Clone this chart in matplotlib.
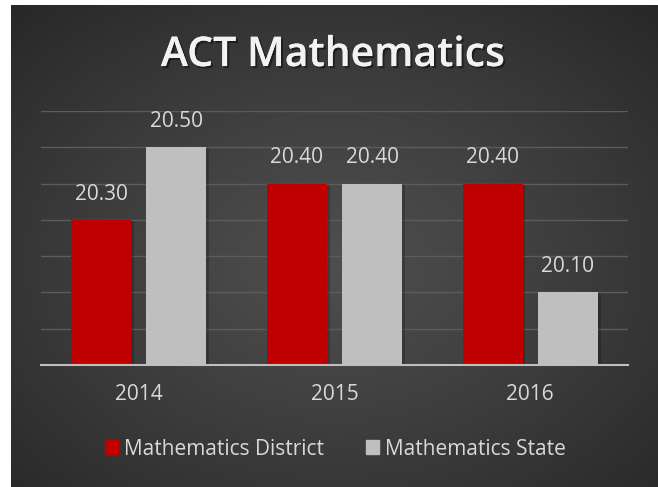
import numpy as np
import matplotlib
matplotlib.use("Agg")
import matplotlib.pyplot as plt
import matplotlib.patheffects as pe
from matplotlib.patches import Patch

# dati
years = ["2014", "2015", "2016"]
district = [20.30, 20.40, 20.40]
state = [20.50, 20.40, 20.10]
series_names = ["Mathematics District", "Mathematics State"]

RED = "#C00000"
GREY = "#BFBFBF"
TXT = "#D9D9D9"
FONT = "Open Sans"

W, H = 658, 487
fig = plt.figure(figsize=(W / 100, H / 100), dpi=100)
fig.patch.set_facecolor("white")

# sfondo scuro con gradiente radiale (bordo bianco a sinistra e in alto)
bg = fig.add_axes([11 / W, 0, 1 - 11 / W, 1 - 5 / H])
bg.set_axis_off()
yy, xx = np.mgrid[0:1:300j, 0:1:400j]
r = np.sqrt((xx - 0.5) ** 2 + (yy - 0.47) ** 2) / np.sqrt(0.5 ** 2 + 0.53 ** 2)
shade = 0.305 - 0.15 * r ** 1.2
bg.imshow(np.dstack([shade] * 3), extent=[0, 1, 0, 1], aspect="auto", origin="lower")
bg.set_xlim(0, 1)
bg.set_ylim(0, 1)

ax = fig.add_axes([41 / W, (H - 365) / H, 587 / W, 254 / H])
ax.set_facecolor("none")
ax.set_ylim(19.9, 20.6)
ax.set_xlim(-0.5, len(years) - 0.5)

x = np.arange(len(years))
bw = 0.307
gap = 0.077
shadow = [pe.withSimplePatchShadow(offset=(2, -1), shadow_rgbFace="black", alpha=0.2)]
b1 = ax.bar(x - (bw + gap) / 2, np.array(district) - 19.9, bw, bottom=19.9,
            color=RED, zorder=3, path_effects=shadow)
b2 = ax.bar(x + (bw + gap) / 2, np.array(state) - 19.9, bw, bottom=19.9,
            color=GREY, zorder=3, path_effects=shadow)

for bars, vals in ((b1, district), (b2, state)):
    for b, v in zip(bars, vals):
        ax.annotate(f"{v:.2f}", (b.get_x() + b.get_width() / 2, v),
                    xytext=(0, 11), textcoords="offset points",
                    ha="center", va="bottom", color=TXT, fontsize=15, family=FONT)

ax.set_yticks(np.arange(19.9, 20.61, 0.1))
ax.yaxis.grid(True, color="#5C5C5C", lw=1)
ax.set_axisbelow(True)
ax.tick_params(axis="y", left=False, labelleft=False)
ax.set_xticks(x)
ax.set_xticklabels(years, color=TXT, fontsize=15, family=FONT)
ax.tick_params(axis="x", length=0, pad=14)
for s in ("top", "right", "left"):
    ax.spines[s].set_visible(False)
ax.spines["bottom"].set_color(GREY)
ax.spines["bottom"].set_linewidth(1.5)
ax.spines["bottom"].set_zorder(4)

fig.text(0.506, 0.887, "ACT Mathematics", ha="center", va="center",
         color="#F2F2F2", fontsize=29.5, fontweight=600, family=FONT,
         path_effects=[pe.withSimplePatchShadow(offset=(1.5, -1.5), shadow_rgbFace="black", alpha=0.45),
                       pe.Normal()])

handles = [Patch(color=RED), Patch(color=GREY)]
leg = fig.legend(handles, series_names, loc="center", bbox_to_anchor=(0.51, 0.078),
                 ncol=2, frameon=False, handlelength=0.63, handleheight=0.63,
                 handletextpad=0.3, columnspacing=2.0, prop={"family": FONT, "size": 15})
for t in leg.get_texts():
    t.set_color(TXT)

fig.savefig("out.png", dpi=100, facecolor=fig.get_facecolor())
